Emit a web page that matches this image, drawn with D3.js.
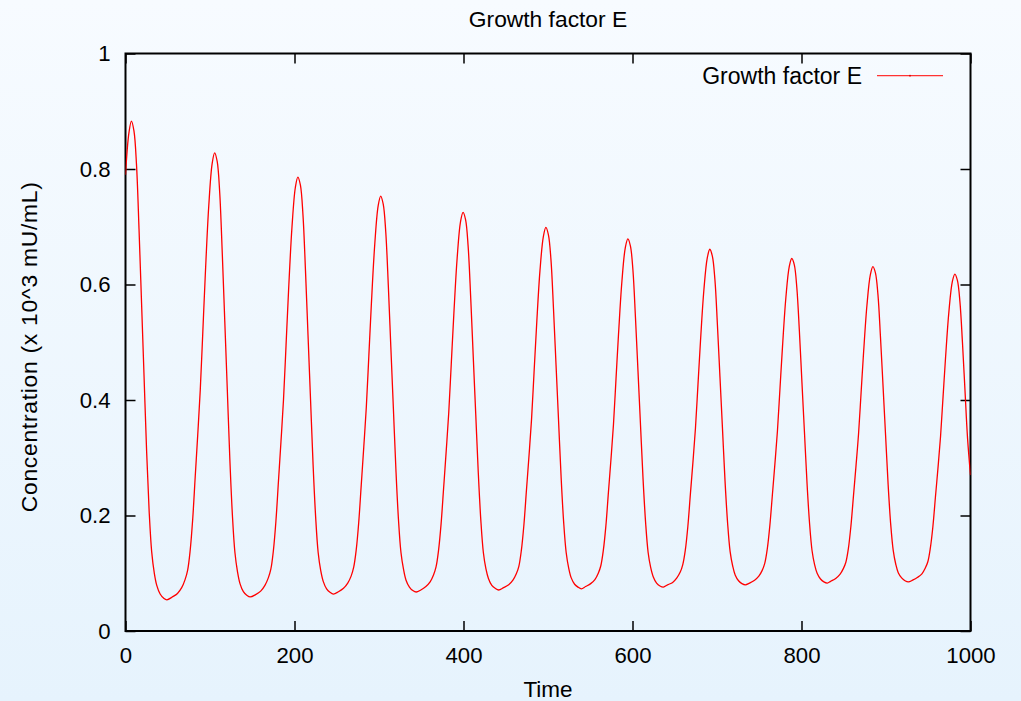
<!DOCTYPE html>
<html>
<head>
<meta charset="utf-8">
<script src="https://cdn.jsdelivr.net/npm/d3@7"></script>
<style>
  html, body { margin: 0; padding: 0; }
  body { width: 1021px; height: 701px; overflow: hidden; }
  svg { display: block; font-family: "Liberation Sans", Arial, Helvetica, sans-serif; }
</style>
</head>
<body>
<svg id="chart" width="1021" height="701"></svg>
<script>
// values, one line per oscillation
const times = [
  0, 4, 7, 10, 13, 16, 19, 22, 25, 28, 31, 34, 37, 41, 45, 49,
  55.5, 61.5, 66.5, 70.5, 73.5, 76.5, 79.5, 82.5, 85.5, 88.5, 91.5, 94.5, 98.5, 102.5, 105.5, 108.5, 111.5, 114.5, 117.5, 120.5, 123.5, 126.5, 129.5, 132.5, 135.5, 139.5, 143.5, 147.5,
  154, 160, 165, 169, 172, 175, 178, 181, 184, 187, 190, 193, 197, 201, 204, 207, 210, 213, 216, 219, 222, 225, 228, 231, 234, 238, 242, 246,
  252, 258, 263, 267, 270, 273, 276, 279, 282, 285, 288, 291, 295, 299, 302, 305, 308, 311, 314, 317, 320, 323, 326, 329, 332, 336, 340, 344,
  349.5, 355.5, 360.5, 364.5, 367.5, 370.5, 373.5, 376.5, 379.5, 382.5, 385.5, 388.5, 392.5, 396.5, 399.5, 402.5, 405.5, 408.5, 411.5, 414.5, 417.5, 420.5, 423.5, 426.5, 429.5, 433.5, 437.5, 441.5,
  447.5, 453.5, 458.5, 462.5, 465.5, 468.5, 471.5, 474.5, 477.5, 480.5, 483.5, 486.5, 490.5, 494.5, 497.5, 500.5, 503.5, 506.5, 509.5, 512.5, 515.5, 518.5, 521.5, 524.5, 527.5, 531.5, 535.5, 539.5,
  544.5, 550.5, 555.5, 559.5, 562.5, 565.5, 568.5, 571.5, 574.5, 577.5, 580.5, 583.5, 587.5, 591.5, 594.5, 597.5, 600.5, 603.5, 606.5, 609.5, 612.5, 615.5, 618.5, 621.5, 624.5, 628.5, 632.5, 636.5,
  641.5, 647.5, 652.5, 656.5, 659.5, 662.5, 665.5, 668.5, 671.5, 674.5, 677.5, 680.5, 684.5, 688.5, 691.5, 694.5, 697.5, 700.5, 703.5, 706.5, 709.5, 712.5, 715.5, 718.5, 721.5, 725.5, 729.5, 733.5,
  738.5, 744.5, 749.5, 753.5, 756.5, 759.5, 762.5, 765.5, 768.5, 771.5, 774.5, 777.5, 781.5, 785.5, 788.5, 791.5, 794.5, 797.5, 800.5, 803.5, 806.5, 809.5, 812.5, 815.5, 818.5, 822.5, 826.5, 830.5,
  834.5, 840.5, 845.5, 849.5, 852.5, 855.5, 858.5, 861.5, 864.5, 867.5, 870.5, 873.5, 877.5, 881.5, 884.5, 887.5, 890.5, 893.5, 896.5, 899.5, 902.5, 905.5, 908.5, 911.5, 914.5, 918.5, 922.5, 926.5,
  931.5, 937.5, 942.5, 946.5, 949.5, 952.5, 955.5, 958.5, 961.5, 964.5, 967.5, 970.5, 974.5, 978.5, 981.5, 984.5, 987.5, 990.5, 993.5, 996.5, 1000
];
const growthE = [
  0.790, 0.862, 0.883, 0.866, 0.808, 0.696, 0.568, 0.439, 0.311, 0.207, 0.137, 0.101, 0.079, 0.064, 0.057, 0.054,
  0.059, 0.065, 0.075, 0.089, 0.105, 0.139, 0.193, 0.267, 0.340, 0.418, 0.518, 0.619, 0.735, 0.809, 0.828, 0.813, 0.759, 0.655, 0.536, 0.417, 0.297, 0.201, 0.136, 0.103, 0.082, 0.068, 0.062, 0.059,
  0.063, 0.069, 0.079, 0.092, 0.107, 0.139, 0.190, 0.259, 0.328, 0.401, 0.495, 0.590, 0.699, 0.768, 0.786, 0.772, 0.721, 0.624, 0.512, 0.400, 0.288, 0.198, 0.136, 0.105, 0.086, 0.073, 0.067, 0.064,
  0.068, 0.074, 0.083, 0.095, 0.110, 0.140, 0.188, 0.253, 0.319, 0.388, 0.477, 0.567, 0.670, 0.736, 0.753, 0.739, 0.691, 0.599, 0.492, 0.386, 0.280, 0.194, 0.136, 0.107, 0.088, 0.076, 0.070, 0.0675,
  0.071, 0.077, 0.085, 0.097, 0.111, 0.140, 0.186, 0.248, 0.311, 0.377, 0.462, 0.547, 0.646, 0.709, 0.725, 0.712, 0.666, 0.578, 0.476, 0.375, 0.274, 0.192, 0.136, 0.108, 0.091, 0.079, 0.074, 0.071,
  0.075, 0.080, 0.088, 0.099, 0.112, 0.140, 0.184, 0.244, 0.303, 0.366, 0.448, 0.529, 0.624, 0.683, 0.699, 0.686, 0.643, 0.558, 0.461, 0.364, 0.267, 0.189, 0.136, 0.109, 0.092, 0.081, 0.076, 0.073,
  0.077, 0.082, 0.089, 0.100, 0.113, 0.140, 0.182, 0.240, 0.297, 0.358, 0.437, 0.515, 0.606, 0.664, 0.679, 0.667, 0.625, 0.543, 0.450, 0.356, 0.263, 0.188, 0.136, 0.110, 0.094, 0.083, 0.078, 0.076,
  0.080, 0.084, 0.092, 0.102, 0.115, 0.140, 0.181, 0.237, 0.292, 0.351, 0.427, 0.503, 0.591, 0.646, 0.661, 0.649, 0.609, 0.530, 0.440, 0.350, 0.260, 0.188, 0.138, 0.113, 0.097, 0.087, 0.082, 0.080,
  0.083, 0.088, 0.095, 0.105, 0.117, 0.142, 0.182, 0.235, 0.289, 0.346, 0.419, 0.492, 0.577, 0.631, 0.645, 0.634, 0.594, 0.519, 0.431, 0.344, 0.257, 0.187, 0.139, 0.115, 0.100, 0.090, 0.085, 0.083,
  0.086, 0.091, 0.098, 0.108, 0.119, 0.143, 0.182, 0.234, 0.286, 0.341, 0.412, 0.483, 0.565, 0.617, 0.631, 0.620, 0.582, 0.508, 0.424, 0.339, 0.254, 0.186, 0.140, 0.116, 0.101, 0.092, 0.087, 0.085,
  0.088, 0.093, 0.099, 0.109, 0.120, 0.144, 0.181, 0.232, 0.282, 0.336, 0.405, 0.474, 0.554, 0.605, 0.618, 0.607, 0.570, 0.499, 0.416, 0.334, 0.270
];
const xTicks = [0, 200, 400, 600, 800, 1000];
const yTicks = [0, 0.2, 0.4, 0.6, 0.8, 1];
const seriesName = 'Growth factor E';

const data = times.map((t, i) => ({ t: t, v: growthE[i] }));

const svg = d3.select('#chart');
const W = 1021, H = 701;
const margin = { top: 53.5, right: 50.5, bottom: 70, left: 125.5 };
const width = W - margin.left - margin.right;
const height = H - margin.top - margin.bottom;

// background gradient
const defs = svg.append('defs');
const grad = defs.append('linearGradient')
  .attr('id', 'bg').attr('x1', 0).attr('y1', 0).attr('x2', 0).attr('y2', 1);
grad.append('stop').attr('offset', '0%').attr('stop-color', '#f7fbff');
grad.append('stop').attr('offset', '100%').attr('stop-color', '#e6f3fd');
svg.append('rect').attr('width', W).attr('height', H).attr('fill', 'url(#bg)');

defs.append('clipPath').attr('id', 'plotclip')
  .append('rect').attr('width', width).attr('height', height);

const x = d3.scaleLinear().domain([0, 1000]).range([0, width]);
const y = d3.scaleLinear().domain([0, 1]).range([height, 0]);

const g = svg.append('g').attr('transform', `translate(${margin.left},${margin.top})`);

// Title
svg.append('text')
  .attr('x', margin.left + width / 2)
  .attr('y', 27)
  .attr('text-anchor', 'middle')
  .attr('font-size', '22.8px')
  .attr('fill', '#000')
  .text(seriesName);

const tickLen = 10;
const styleAxis = sel => {
  sel.select('.domain').remove();
  sel.selectAll('.tick line').attr('stroke', '#000').attr('stroke-width', 1.5);
  sel.selectAll('.tick text').attr('font-size', '22.2px').attr('fill', '#000')
    .attr('font-family', '"Liberation Sans", Arial, sans-serif');
};

g.append('g')
  .attr('transform', `translate(0,${height})`)
  .call(d3.axisBottom(x).tickValues(xTicks).tickSize(-tickLen).tickPadding(16).tickFormat(d3.format('d')))
  .call(styleAxis)
  .call(s => s.selectAll('.tick text').attr('dy', '0.71em'));

g.append('g')
  .call(d3.axisTop(x).tickValues(xTicks).tickSize(-tickLen).tickFormat(''))
  .call(styleAxis);

g.append('g')
  .call(d3.axisLeft(y).tickValues(yTicks).tickSize(-tickLen).tickPadding(15).tickFormat(d3.format('~g')))
  .call(styleAxis);

g.append('g')
  .attr('transform', `translate(${width},0)`)
  .call(d3.axisRight(y).tickValues(yTicks).tickSize(-tickLen).tickFormat(''))
  .call(styleAxis);

// frame
g.append('rect')
  .attr('width', width).attr('height', height)
  .attr('fill', 'none').attr('stroke', '#000').attr('stroke-width', 2);

// curve
const line = d3.line()
  .x(d => x(d.t))
  .y(d => y(d.v))
  .curve(d3.curveCatmullRom.alpha(0.5));

g.append('path')
  .datum(data)
  .attr('clip-path', 'url(#plotclip)')
  .attr('fill', 'none')
  .attr('stroke', '#ff0000')
  .attr('stroke-width', 1.3)
  .attr('d', line);

// Legend
const legend = g.append('g');
legend.append('text')
  .attr('x', 862 - margin.left)
  .attr('y', 84 - margin.top)
  .attr('text-anchor', 'end')
  .attr('font-size', '23px')
  .attr('fill', '#000')
  .text(seriesName);
legend.append('line')
  .attr('x1', 877 - margin.left).attr('x2', 943 - margin.left)
  .attr('y1', 75.7 - margin.top).attr('y2', 75.7 - margin.top)
  .attr('stroke', '#ff3333').attr('stroke-width', 1.3);
legend.append('circle')
  .attr('cx', 910 - margin.left).attr('cy', 75.7 - margin.top)
  .attr('r', 0.9).attr('fill', '#e00000');

// Axis labels
svg.append('text')
  .attr('x', margin.left + width / 2)
  .attr('y', 697)
  .attr('text-anchor', 'middle')
  .attr('font-size', '22.5px')
  .attr('fill', '#000')
  .text('Time');

svg.append('text')
  .attr('transform', `translate(37,${margin.top + height / 2 + 5}) rotate(-90)`)
  .attr('text-anchor', 'middle')
  .attr('font-size', '22.8px')
  .attr('textLength', 330)
  .attr('lengthAdjust', 'spacing')
  .attr('fill', '#000')
  .text('Concentration (x 10^3 mU/mL)');
</script>
</body>
</html>
